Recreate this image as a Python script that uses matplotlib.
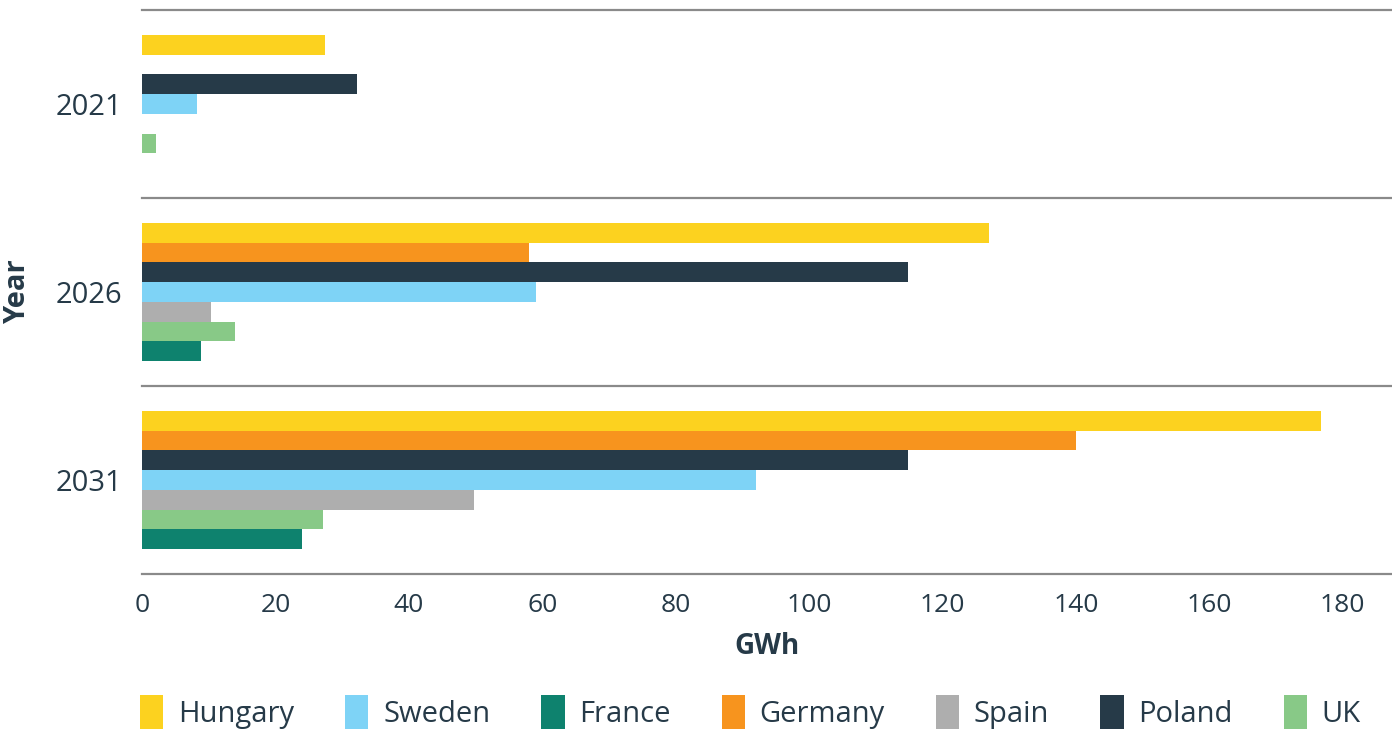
import numpy as np
import matplotlib.pyplot as plt
from matplotlib.patches import Patch

plt.rcParams["font.family"] = ["Open Sans", "DejaVu Sans"]

years = ["2021", "2026", "2031"]

# bars are stacked top to bottom inside each year group in this order
countries = ["Hungary", "Germany", "Poland", "Sweden", "Spain", "UK", "France"]
hungary = [27.4, 127.0, 176.8]
germany = [0.0, 58.0, 140.0]
poland = [32.2, 114.8, 114.8]
sweden = [8.2, 59.1, 92.1]
spain = [0.0, 10.3, 49.8]
uk = [2.1, 13.9, 27.1]
france = [0.0, 8.8, 24.0]

colors = {
    "Hungary": "#FCD21F",
    "Germany": "#F7941E",
    "Poland": "#263A48",
    "Sweden": "#7ED3F6",
    "Spain": "#AEAEAE",
    "UK": "#88C987",
    "France": "#0E826E",
}
legend_order = ["Hungary", "Sweden", "France", "Germany", "Spain", "Poland", "UK"]
text_color = "#263A48"

series = [hungary, germany, poland, sweden, spain, uk, france]

fig = plt.figure(figsize=(13.92, 7.29), dpi=100)
ax = fig.add_axes([0.102, 0.2126, 0.898, 0.7737])

y = np.arange(len(years))
bar_h = 0.105
n = len(countries)
for i, (name, vals) in enumerate(zip(countries, series)):
    offset = (i - (n - 1) / 2) * bar_h
    ax.barh(y + offset, vals, height=bar_h, color=colors[name], label=name)

ax.set_ylim(2.5, -0.5)
ax.set_xlim(0, 187.4)

# separators between year groups
for b in np.arange(-0.5, len(years), 1.0):
    ax.axhline(b, color="#8a8a8a", lw=1.6, zorder=0, clip_on=False)

for s in ax.spines.values():
    s.set_visible(False)

ax.set_yticks(y)
ax.set_yticklabels(years)
ax.set_xticks(np.arange(0, 181, 20))
ax.tick_params(axis="y", length=0, pad=14, labelsize=21, labelcolor=text_color)
ax.tick_params(axis="x", length=0, pad=14, labelsize=19, labelcolor=text_color)

ax.set_xlabel("GWh", fontsize=20, fontweight="bold", color=text_color, labelpad=10)
ax.set_ylabel("Year", fontsize=21, fontweight="bold", color=text_color)
ax.yaxis.set_label_coords(-0.088, 0.5)

handles = [Patch(facecolor=colors[c], edgecolor="none") for c in legend_order]
fig.legend(
    handles,
    legend_order,
    loc="center",
    bbox_to_anchor=(0.539, 0.023),
    ncol=7,
    frameon=False,
    fontsize=21,
    labelcolor=text_color,
    handlelength=0.8,
    handleheight=1.4,
    handletextpad=0.5,
    columnspacing=1.75,
)

fig.savefig("out.png", dpi=100)
